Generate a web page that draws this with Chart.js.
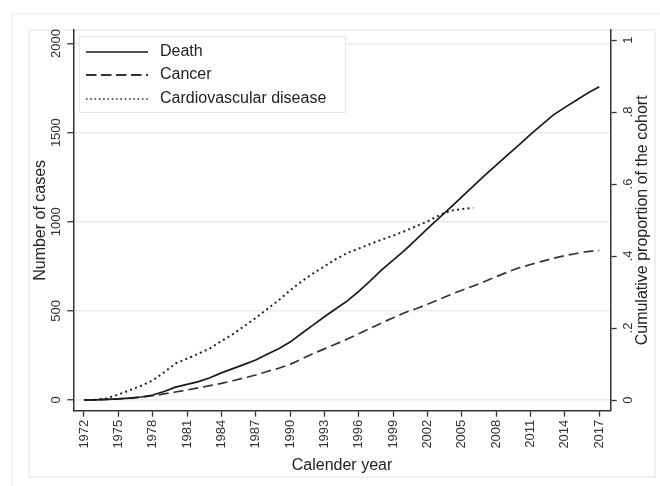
<!DOCTYPE html>
<html>
<head>
<meta charset="utf-8">
<script src="https://cdn.jsdelivr.net/npm/chart.js@4.4.0/dist/chart.umd.min.js"></script>
<style>
  html, body { margin: 0; padding: 0; background: #fff; }
</style>
</head>
<body>
<canvas id="myChart" width="660" height="486"></canvas>
<script>
// data
const years = [1972, 1973, 1974, 1975, 1976, 1977, 1978, 1979, 1980, 1981,
  1982, 1983, 1984, 1985, 1986, 1987, 1988, 1989, 1990, 1991,
  1992, 1993, 1994, 1995, 1996, 1997, 1998, 1999, 2000, 2001,
  2002, 2003, 2004, 2005, 2006, 2007, 2008, 2009, 2010, 2011,
  2012, 2013, 2014, 2015, 2016, 2017];
const deaths = [0, 1, 3, 6, 11, 17, 28, 48, 72, 88,
  103, 125, 152, 176, 200, 224, 257, 288, 325, 373,
  420, 467, 512, 556, 610, 668, 730, 785, 840, 900,
  962, 1020, 1080, 1140, 1200, 1260, 1318, 1375, 1432, 1490,
  1545, 1600, 1642, 1682, 1722, 1758];
const cancer = [0, 1, 3, 6, 11, 16, 24, 34, 45, 56,
  68, 81, 93, 108, 124, 140, 160, 178, 200, 230,
  260, 287, 314, 342, 372, 402, 432, 462, 490, 512,
  537, 564, 591, 616, 640, 665, 692, 718, 742, 760,
  778, 795, 810, 822, 833, 840];
const cvd = [0, 1, 10, 30, 55, 80, 110, 155, 205, 232,
  260, 290, 330, 370, 415, 460, 510, 560, 615, 665,
  710, 750, 790, 825, 850, 875, 900, 922, 947, 975,
  1002, 1035, 1062, 1071, 1078];
const xTicks = [1972, 1975, 1978, 1981, 1984, 1987, 1990, 1993, 1996, 1999, 2002, 2005, 2008, 2011, 2014, 2017];
const leftTicks = [0, 500, 1000, 1500, 2000];
const rightTicks = [0, 0.2, 0.4, 0.6, 0.8, 1];
const rightTickLabels = ['0', '.2', '.4', '.6', '.8', '1'];

const FONT = 'Arial, "Liberation Sans", Helvetica, sans-serif';
Chart.defaults.font.family = FONT;
Chart.defaults.color = '#333';

const pts = (vals) => vals.map((v, i) => ({ x: years[i], y: v }));

const data = {
  datasets: [
    { label: 'Death', data: pts(deaths), borderColor: '#1a1a1a', borderWidth: 1.7, borderDash: [],
      legendDash: [], legendWidth: 1.6 },
    { label: 'Cancer', data: pts(cancer), borderColor: '#333', borderWidth: 1.7, borderDash: [10, 5],
      legendDash: [10.5, 4.5], legendWidth: 1.8 },
    { label: 'Cardiovascular disease', data: pts(cvd), borderColor: '#222', borderWidth: 2, borderDash: [2, 3.3],
      legendDash: [1.5, 2.8], legendWidth: 1.5 }
  ]
};

// frames, rotated tick labels, titles, legend box
const decor = {
  id: 'decor',
  beforeDraw(chart) {
    const ctx = chart.ctx;
    ctx.save();
    ctx.fillStyle = '#fff';
    ctx.fillRect(0, 0, chart.width, chart.height);
    ctx.lineWidth = 1.5;
    ctx.strokeStyle = '#f0f0f0';
    ctx.strokeRect(12, 14, 700, 500);
    ctx.strokeStyle = '#ececec';
    ctx.strokeRect(29, 30, 626, 447);
    ctx.restore();
  },
  afterDraw(chart) {
    const ctx = chart.ctx;
    const y = chart.scales.y, y2 = chart.scales.y2;
    const area = chart.chartArea;
    const rotText = (txt, x, py) => {
      ctx.save();
      ctx.translate(x, py);
      ctx.rotate(-Math.PI / 2);
      ctx.fillText(txt, 0, 0);
      ctx.restore();
    };
    ctx.save();
    ctx.fillStyle = '#333';
    ctx.textAlign = 'center';
    ctx.textBaseline = 'middle';
    ctx.font = '13px ' + FONT;
    leftTicks.forEach(v => rotText(String(v), 56, y.getPixelForValue(v)));
    rightTicks.forEach((v, i) => rotText(rightTickLabels[i], 628, y2.getPixelForValue(v)));

    ctx.font = '16px ' + FONT;
    ctx.fillStyle = '#222';
    const midY = (area.top + area.bottom) / 2;
    rotText('Number of cases', 41, midY);
    rotText('Cumulative proportion of the cohort', 643, midY);
    ctx.fillText('Calender year', (area.left + area.right) / 2, 466);

    // legend
    ctx.fillStyle = '#fff';
    ctx.fillRect(79, 36, 267, 77);
    ctx.strokeStyle = '#e6e6e6';
    ctx.lineWidth = 1;
    ctx.strokeRect(79.5, 36.5, 266, 76);
    const rows = [52, 75, 99];
    chart.data.datasets.forEach((ds, i) => {
      ctx.beginPath();
      ctx.setLineDash(ds.legendDash);
      ctx.strokeStyle = ds.borderColor;
      ctx.lineWidth = ds.legendWidth;
      ctx.moveTo(86, rows[i]);
      ctx.lineTo(148, rows[i]);
      ctx.stroke();
      ctx.setLineDash([]);
      ctx.fillStyle = '#222';
      ctx.textAlign = 'left';
      ctx.fillText(ds.label, 160, rows[i]);
    });
    ctx.restore();
  }
};

const config = {
  type: 'line',
  data,
  options: {
    responsive: false,
    animation: false,
    layout: { padding: { top: 30, left: 0, right: 0, bottom: 0 } },
    elements: { point: { radius: 0 }, line: { tension: 0, fill: false } },
    plugins: { legend: { display: false }, tooltip: { enabled: false } },
    scales: {
      x: {
        type: 'linear',
        min: 1971.07,
        max: 2018,
        afterBuildTicks: s => { s.ticks = xTicks.map(v => ({ value: v })); },
        afterFit: s => { s.height = 75.3; },
        ticks: { minRotation: 90, maxRotation: 90, padding: 3, font: { size: 13 }, color: '#333',
          callback: v => String(v) },
        grid: { drawOnChartArea: false, tickLength: 6, tickColor: '#333', tickWidth: 1.3 },
        border: { color: '#333', width: 1.5 }
      },
      y: {
        position: 'left',
        min: -60,
        max: 2076,
        afterBuildTicks: s => { s.ticks = leftTicks.map(v => ({ value: v })); },
        afterFit: s => { s.width = 73.3; },
        ticks: { display: false },
        grid: { color: '#ebebeb', lineWidth: 1.5, tickLength: 6, tickColor: '#333', tickWidth: 1.3 },
        border: { color: '#333', width: 1.5 }
      },
      y2: {
        position: 'right',
        min: -0.0297,
        max: 1.028,
        afterBuildTicks: s => { s.ticks = rightTicks.map(v => ({ value: v })); },
        afterFit: s => { s.width = 49.3; },
        ticks: { display: false },
        grid: { drawOnChartArea: false, tickLength: 6, tickColor: '#333', tickWidth: 1.3 },
        border: { color: '#333', width: 1.5 }
      }
    }
  },
  plugins: [decor]
};

const myChart = new Chart(document.getElementById('myChart'), config);
</script>
</body>
</html>
